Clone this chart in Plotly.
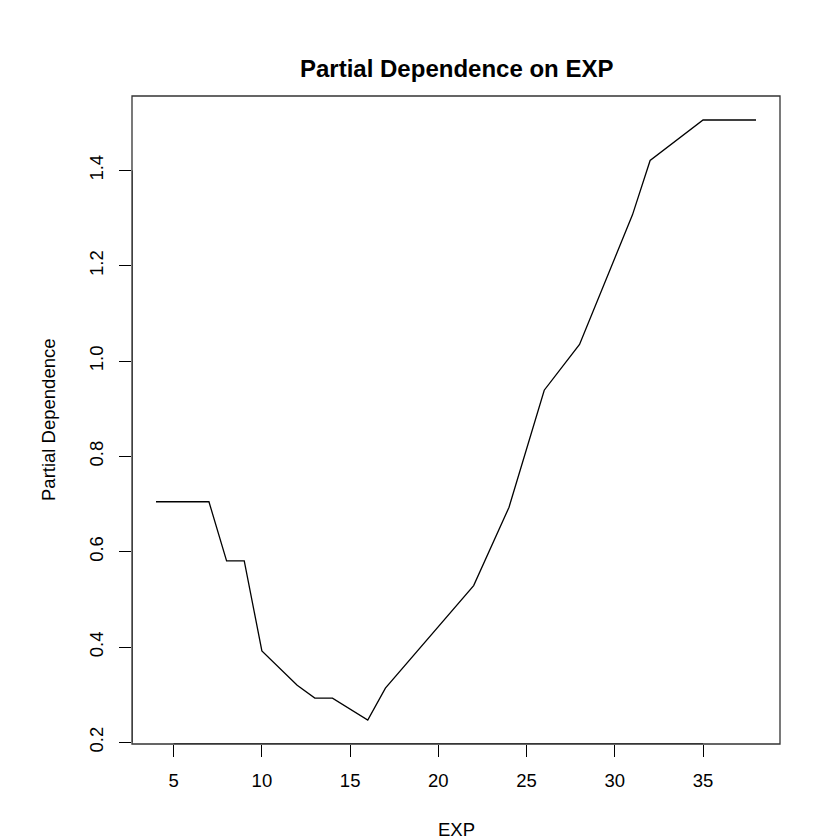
import plotly.graph_objects as go

exp_values = [4, 7, 8, 9, 10, 12, 13, 14, 16, 17, 22, 24, 26, 28, 31, 32, 35, 38]
partial_dep = [0.705, 0.705, 0.581, 0.581, 0.392, 0.320, 0.293, 0.293, 0.247, 0.314,
               0.529, 0.693, 0.939, 1.035, 1.307, 1.421, 1.506, 1.506]
x_ticks = [5, 10, 15, 20, 25, 30, 35]
y_ticks = [0.2, 0.4, 0.6, 0.8, 1.0, 1.2, 1.4]

FONT = "Liberation Sans, Arial, Helvetica, sans-serif"

xmin, xmax = min(exp_values), max(exp_values)
ymin, ymax = min(partial_dep), max(partial_dep)
xpad = (xmax - xmin) * 0.04
ypad = (ymax - ymin) * 0.04

fig = go.Figure()
fig.add_trace(go.Scatter(x=exp_values, y=partial_dep, mode="lines",
                         line=dict(color="black", width=1.3), showlegend=False,
                         hoverinfo="x+y"))

# R-style axis lines spanning first to last tick
fig.add_trace(go.Scatter(x=[x_ticks[0], x_ticks[-1]], y=[ymin - ypad, ymin - ypad],
                         mode="lines", line=dict(color="black", width=1.3),
                         showlegend=False, hoverinfo="skip", cliponaxis=False))
fig.add_trace(go.Scatter(x=[xmin - xpad, xmin - xpad], y=[y_ticks[0], y_ticks[-1]],
                         mode="lines", line=dict(color="black", width=1.3),
                         showlegend=False, hoverinfo="skip", cliponaxis=False))

fig.update_layout(
    width=840, height=840,
    margin=dict(l=124, r=68, t=88, b=104),
    paper_bgcolor="white", plot_bgcolor="white",
    font=dict(family=FONT, size=18.5, color="black"),
    xaxis=dict(range=[xmin - xpad, xmax + xpad], tickvals=x_ticks,
               ticks="outside", ticklen=12, tickwidth=1, tickcolor="black",
               showgrid=False, zeroline=False, showline=False,
               ticklabelstandoff=8, tickfont=dict(size=18.5, family=FONT)),
    yaxis=dict(range=[ymin - ypad, ymax + ypad], tickvals=y_ticks, tickformat=".1f",
               ticks="outside", ticklen=12, tickwidth=1, tickcolor="black",
               showgrid=False, zeroline=False, showline=False, tickangle=-90,
               ticklabelstandoff=9, tickfont=dict(size=18.5, family=FONT)),
    shapes=[dict(type="rect", xref="paper", yref="paper", x0=0, x1=1, y0=0, y1=1,
                 line=dict(color="#333333", width=1.3))],
    annotations=[
        dict(text="<b>Partial Dependence on EXP</b>", xref="paper", yref="paper",
             x=0.5, y=1, yshift=28, xanchor="center", yanchor="middle",
             showarrow=False, font=dict(size=24, family=FONT)),
        dict(text="EXP", xref="paper", yref="paper", x=0.5, y=0, yshift=-85,
             xanchor="center", yanchor="middle", showarrow=False,
             font=dict(size=18.5, family=FONT)),
        dict(text="Partial Dependence", xref="paper", yref="paper", x=0, y=0.5,
             xshift=-84, xanchor="center", yanchor="middle", textangle=-90,
             showarrow=False, font=dict(size=18.5, family=FONT)),
    ],
)

fig.write_html("out.html")
